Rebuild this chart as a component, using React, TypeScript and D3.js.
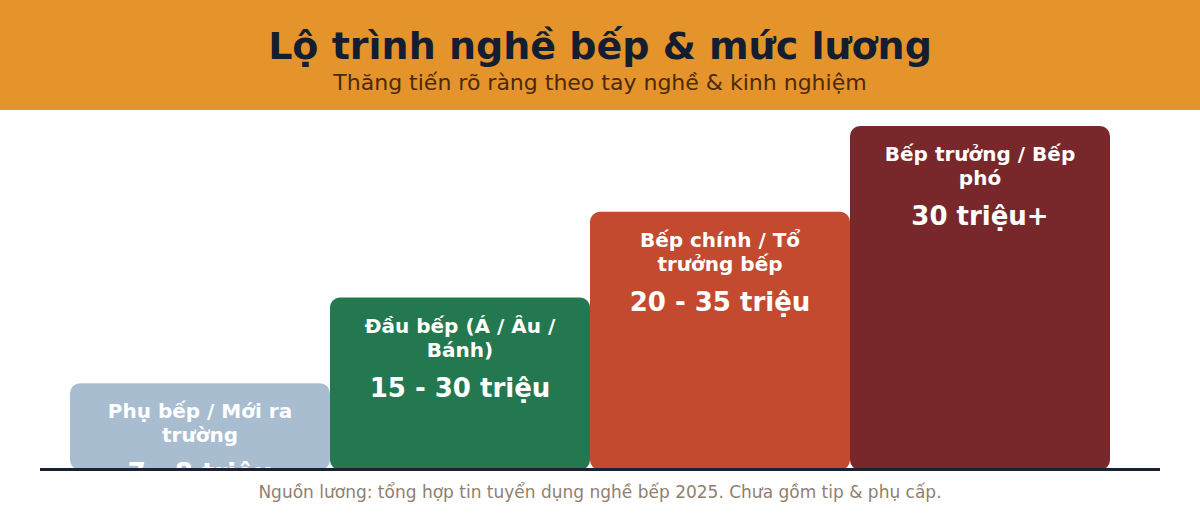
import React, {useEffect, useRef} from 'react';
import * as d3 from "d3";

const title = "Lộ trình nghề bếp & mức lương";
const subtitle = "Thăng tiến rõ ràng theo tay nghề & kinh nghiệm";
const footnote = "Nguồn lương: tổng hợp tin tuyển dụng nghề bếp 2025. Chưa gồm tip & phụ cấp.";

const roles = ["Phụ bếp / Mới ra trường", "Đầu bếp (Á / Âu / Bánh)", "Bếp chính / Tổ trưởng bếp", "Bếp trưởng / Bếp phó"];
const salaries = ["7 - 8 triệu", "15 - 30 triệu", "20 - 35 triệu", "30 triệu+"];
const levels = [1, 2, 3, 4];
const colors = ["#A9BDD0", "#237850", "#C34A2F", "#78282A"];

function App() {
    const width = 1200;
    const height = 520;
    const svgRef = useRef<SVGSVGElement>(null);
    const baseline = 469;
    const font = "'DejaVu Sans', Verdana, sans-serif";

    useEffect(() => {
        const svg = d3.select(svgRef.current);
        svg.selectAll("*").remove();

        let x = d3.scaleBand<string>()
            .domain(roles)
            .range([70, 1110])
            .padding(0);
        let y = d3.scaleLinear()
            .domain([0, 4])
            .range([baseline, 126]);

        // header band
        svg.append("rect")
            .attr("x", 0).attr("y", 0)
            .attr("width", width).attr("height", 110)
            .attr("fill", "#E5942B");
        svg.append("text")
            .attr("x", width / 2).attr("y", 59)
            .attr("text-anchor", "middle")
            .attr("font-family", font)
            .attr("font-weight", "bold")
            .attr("font-size", 38)
            .attr("fill", "#141E30")
            .text(title);
        svg.append("text")
            .attr("x", width / 2).attr("y", 90)
            .attr("text-anchor", "middle")
            .attr("font-family", font)
            .attr("font-size", 22)
            .attr("fill", "#4A2A0A")
            .text(subtitle);

        svg.append("defs").append("clipPath")
            .attr("id", "plot-clip")
            .append("rect")
            .attr("x", 0).attr("y", 110)
            .attr("width", width).attr("height", baseline - 110);

        let steps = svg.append("g")
            .attr("clip-path", "url(#plot-clip)")
            .selectAll("g")
            .data(roles)
            .enter().append("g");

        steps.append("rect")
            .attr("x", d => x(d)!)
            .attr("y", (d, i) => y(levels[i]))
            .attr("width", x.bandwidth())
            .attr("height", (d, i) => baseline + 1 - y(levels[i]))
            .attr("rx", 10)
            .attr("fill", (d, i) => colors[i]);

        steps.each(function (d, i) {
            const g = d3.select(this);
            const cx = x(d)! + x.bandwidth() / 2;
            const top = y(levels[i]);
            const label = g.append("text")
                .attr("text-anchor", "middle")
                .attr("font-family", font)
                .attr("font-weight", "bold")
                .attr("font-size", 20)
                .attr("fill", "#FFFFFF");
            // wrap the role name into lines
            const words = d.split(" ");
            let lines: string[] = [];
            let line: string[] = [];
            const probe = label.append("tspan");
            words.forEach(w => {
                const test = [...line, w].join(" ");
                probe.text(test);
                if ((probe.node() as SVGTSpanElement).getComputedTextLength() > 215 && line.length) {
                    lines.push(line.join(" "));
                    line = [w];
                } else {
                    line.push(w);
                }
            });
            if (line.length) lines.push(line.join(" "));
            probe.remove();
            lines.forEach((l, k) => {
                label.append("tspan")
                    .attr("x", cx)
                    .attr("y", top + 35 + k * 24)
                    .text(l);
            });
            g.append("text")
                .attr("x", cx)
                .attr("y", top + 35 + (lines.length - 1) * 24 + 40)
                .attr("text-anchor", "middle")
                .attr("font-family", font)
                .attr("font-weight", "bold")
                .attr("font-size", 26)
                .attr("fill", "#FFFFFF")
                .text(salaries[i]);
        });

        svg.append("line")
            .attr("x1", 40).attr("x2", 1160)
            .attr("y1", baseline + 0.5).attr("y2", baseline + 0.5)
            .attr("stroke", "#1A2233")
            .attr("stroke-width", 3);

        svg.append("text")
            .attr("x", width / 2).attr("y", 498)
            .attr("text-anchor", "middle")
            .attr("font-family", font)
            .attr("font-size", 17)
            .attr("fill", "#8F8070")
            .text(footnote);
    }, []);

    return (
        <div>
            <svg ref={svgRef} width={width} height={height}
                 style={{position: "absolute", left: 0, top: 0, display: "block"}}></svg>
        </div>
    );
}

export default App;
